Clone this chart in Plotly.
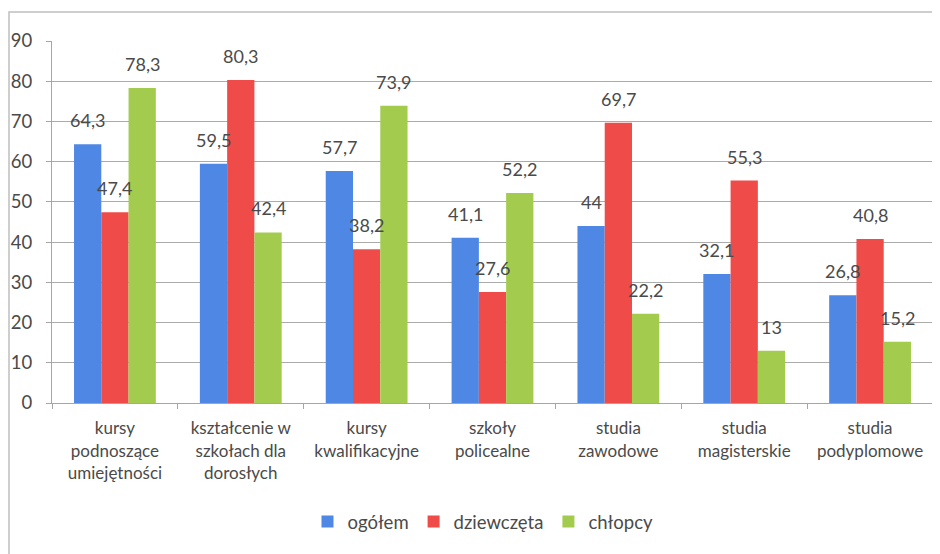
import plotly.graph_objects as go

categories = [
    "kursy<br>podnoszące<br>umiejętności",
    "kształcenie w<br>szkołach dla<br>dorosłych",
    "kursy<br>kwalifikacyjne",
    "szkoły<br>policealne",
    "studia<br>zawodowe",
    "studia<br>magisterskie",
    "studia<br>podyplomowe",
]
ogolem = [64.3, 59.5, 57.7, 41.1, 44, 32.1, 26.8]
dziewczeta = [47.4, 80.3, 38.2, 27.6, 69.7, 55.3, 40.8]
chlopcy = [78.3, 42.4, 73.9, 52.2, 22.2, 13, 15.2]

series = [
    ("ogółem", ogolem, "#4F87E4"),
    ("dziewczęta", dziewczeta, "#EF4B48"),
    ("chłopcy", chlopcy, "#A3CC4E"),
]

FONT = "Lato, 'Open Sans', sans-serif"
TXT = "#4a4a4a"

W, H = 932, 546
L, R, T, B = 44, 7, 33, 151
pw, ph = W - L - R, H - T - B
BARGAP = 0.35
cat_px = pw / len(categories)
bar_px = cat_px * (1 - BARGAP) / len(series)

fig = go.Figure()
annotations = []
for i, (name, vals, col) in enumerate(series):
    fig.add_trace(go.Bar(
        name=name, x=categories, y=vals, marker_color=col,
        marker_line_width=0,
    ))
    for c, v in zip(categories, vals):
        annotations.append(dict(
            x=c, y=v, xref="x", yref="y",
            text=str(v).replace(".", ","), showarrow=False,
            xshift=(i - 1) * bar_px, yshift=24, yanchor="middle",
            font=dict(size=18, color=TXT, family=FONT),
        ))

fig.update_layout(
    width=W, height=H,
    margin=dict(l=L, r=R, t=T, b=B, autoexpand=False),
    paper_bgcolor="white", plot_bgcolor="white",
    barmode="group", bargap=BARGAP, bargroupgap=0,
    font=dict(family=FONT, size=17, color=TXT),
    showlegend=True,
    annotations=annotations,
    legend=dict(orientation="h", x=(475 - L) / pw, xanchor="center",
                y=-(514 - (T + ph)) / ph, yanchor="middle",
                font=dict(size=18.5, color=TXT, family=FONT), itemwidth=30,
                traceorder="normal"),
    xaxis=dict(showline=True, linecolor="#a6a6a6", linewidth=1,
               ticks="outside", tickson="boundaries", ticklen=5, tickcolor="#a6a6a6",
               tickfont=dict(size=17, color=TXT, family=FONT), showgrid=False,
               ticklabelstandoff=10, automargin=False),
    yaxis=dict(range=[0, 90], dtick=10, showline=True, linecolor="#a6a6a6",
               gridcolor="#ababab", gridwidth=1, ticks="outside", ticklen=5,
               tickcolor="#a6a6a6", tickfont=dict(size=18.5, color=TXT, family=FONT),
               ticklabelstandoff=10, zeroline=False, automargin=False),
    shapes=[dict(type="rect", xref="paper", yref="paper",
                 x0=(1 - L) / pw, x1=1.2, y0=-0.7, y1=1 + (T - 4) / ph,
                 line=dict(color="#bfbfbf", width=1.5), fillcolor="rgba(0,0,0,0)",
                 layer="below")],
)

fig.write_html("out.html")
